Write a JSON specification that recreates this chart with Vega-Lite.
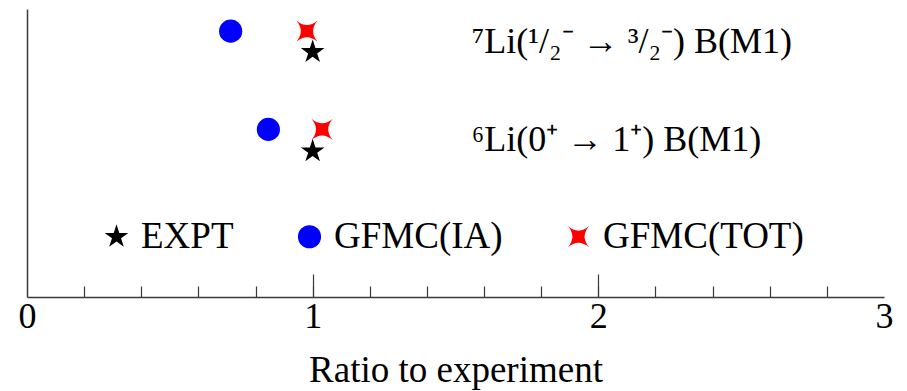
{
  "$schema": "https://vega.github.io/schema/vega-lite/v6.json",
  "autosize": "none",
  "width": 857,
  "height": 288,
  "padding": {"left": 27, "top": 9, "right": 23, "bottom": 94},
  "background": "white",
  "config": {
    "view": {"stroke": null},
    "font": "Liberation Serif",
    "axis": {"grid": false, "domainColor": "#3a3a3a", "tickColor": "#3a3a3a"}
  },
  "datasets": {
    "points": [
      {"transition": "7Li", "series": "GFMC(IA)", "ratio": 0.713, "level": 9.23},
      {"transition": "7Li", "series": "GFMC(TOT)", "ratio": 0.98, "level": 9.23},
      {"transition": "7Li", "series": "EXPT", "ratio": 1.0, "level": 8.51},
      {"transition": "6Li", "series": "GFMC(IA)", "ratio": 0.845, "level": 5.82},
      {"transition": "6Li", "series": "GFMC(TOT)", "ratio": 1.033, "level": 5.82},
      {"transition": "6Li", "series": "EXPT", "ratio": 1.0, "level": 5.06}
    ],
    "notes": [
      {"label": "⁷Li(¹/₂⁻ → ³/₂⁻) B(M1)", "ratio": 1.557, "level": 8.85},
      {"label": "⁶Li(0⁺ → 1⁺) B(M1)", "ratio": 1.557, "level": 5.45}
    ]
  },
  "resolve": {"axis": {"x": "independent"}},
  "layer": [
    {
      "data": {"name": "points"},
      "mark": {"type": "point", "filled": true, "opacity": 1, "strokeWidth": 0},
      "encoding": {
        "x": {
          "field": "ratio", "type": "quantitative",
          "scale": {"domain": [0, 3], "nice": false, "zero": false},
          "axis": {
            "orient": "bottom",
            "values": [0, 0.2, 0.4, 0.6, 0.8, 1, 1.2, 1.4, 1.6, 1.8, 2, 2.2, 2.4, 2.6, 2.8, 3],
            "labelExpr": "datum.value % 1 === 0 ? datum.value : ''",
            "tickSize": -11,
            "tickOpacity": {"condition": {"test": "datum.value === 0 || datum.value === 3", "value": 0}, "value": 1},
            "tickWidth": 1.2,
            "labelPadding": 13,
            "labelFontSize": 36, "labelColor": "black", "labelFont": "Liberation Serif",
            "domainWidth": 1.5, "labelFlush": false, "labelOverlap": false,
            "title": "Ratio to experiment", "titleFontSize": 37, "titleFontWeight": "normal",
            "titleFont": "Liberation Serif", "titleColor": "black", "titlePadding": 18
          }
        },
        "y": {
          "field": "level", "type": "quantitative",
          "scale": {"domain": [0, 10], "nice": false, "zero": false},
          "axis": {"ticks": false, "labels": false, "title": null, "domainWidth": 1.5}
        },
        "color": {
          "field": "series", "type": "nominal",
          "scale": {"domain": ["EXPT", "GFMC(IA)", "GFMC(TOT)"], "range": ["#000000", "#0000ff", "#ff0000"]},
          "legend": {
            "title": null, "orient": "none", "direction": "horizontal",
            "legendX": 71, "legendY": 209, "padding": 0,
            "labelFont": "Liberation Serif", "labelFontSize": 37, "labelOffset": 6,
            "columnPadding": 57, "symbolStrokeWidth": 0, "labelLimit": 400,
            "encode": {"labels": {"update": {"fill": {"signal": "scale('color', datum.value)"}}}}
          }
        },
        "shape": {
          "field": "series", "type": "nominal",
          "scale": {"domain": ["EXPT", "GFMC(IA)", "GFMC(TOT)"], "range": [
            "M0,-1L0.225,-0.309L0.951,-0.309L0.363,0.118L0.588,0.809L0,0.382L-0.588,0.809L-0.363,0.118L-0.951,-0.309L-0.225,-0.309Z",
            "circle",
            "M-1,-1Q0,-0.15,1,-1Q0.15,0,1,1Q0,0.15,-1,1Q-0.15,0,-1,-1Z"]}
        },
        "size": {
          "field": "series", "type": "nominal",
          "scale": {"domain": ["EXPT", "GFMC(IA)", "GFMC(TOT)"], "range": [620, 452, 560]}
        }
      }
    },
    {
      "data": {"name": "notes"},
      "mark": {"type": "text", "align": "left", "baseline": "middle", "font": "Liberation Serif", "fontSize": 36, "color": "black"},
      "encoding": {
        "x": {
          "field": "ratio", "type": "quantitative",
          "axis": {"orient": "bottom", "values": [1, 2], "tickSize": -23, "tickWidth": 1.2, "labels": false, "domain": false, "title": null}
        },
        "y": {"field": "level", "type": "quantitative"},
        "text": {"field": "label"}
      }
    }
  ]
}
